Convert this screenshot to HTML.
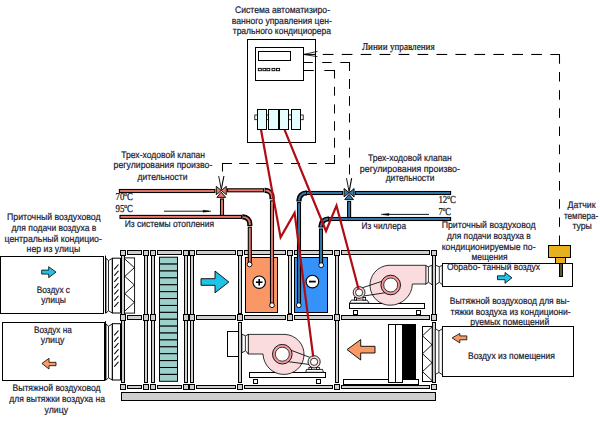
<!DOCTYPE html>
<html><head><meta charset="utf-8"><style>
html,body{margin:0;padding:0;background:#fff;width:600px;height:427px;overflow:hidden}
svg{display:block} text{text-rendering:geometricPrecision}
</style></head><body>
<svg width="600" height="427" viewBox="0 0 600 427">
<rect x="121.50" y="255.50" width="3.00" height="59.00" fill="#cfcfcf" stroke="#000" stroke-width="1.0" />
<rect x="144.50" y="255.50" width="3.00" height="59.00" fill="#cfcfcf" stroke="#000" stroke-width="1.0" />
<rect x="151.50" y="255.50" width="3.00" height="59.00" fill="#cfcfcf" stroke="#000" stroke-width="1.0" />
<rect x="184.50" y="255.50" width="3.00" height="59.00" fill="#cfcfcf" stroke="#000" stroke-width="1.0" />
<rect x="190.50" y="255.50" width="3.00" height="59.00" fill="#cfcfcf" stroke="#000" stroke-width="1.0" />
<rect x="238.50" y="255.50" width="3.00" height="58.00" fill="#cfcfcf" stroke="#000" stroke-width="1.0" />
<rect x="288.50" y="255.50" width="3.00" height="58.00" fill="#cfcfcf" stroke="#000" stroke-width="1.0" />
<rect x="335.50" y="255.50" width="3.00" height="59.00" fill="#cfcfcf" stroke="#000" stroke-width="1.0" />
<rect x="432.50" y="255.50" width="3.00" height="59.00" fill="#cfcfcf" stroke="#000" stroke-width="1.0" />
<rect x="121.50" y="320.50" width="3.00" height="62.00" fill="#cfcfcf" stroke="#000" stroke-width="1.0" />
<rect x="144.50" y="320.50" width="3.00" height="62.00" fill="#cfcfcf" stroke="#000" stroke-width="1.0" />
<rect x="151.50" y="320.50" width="3.00" height="62.00" fill="#cfcfcf" stroke="#000" stroke-width="1.0" />
<rect x="184.50" y="320.50" width="3.00" height="62.00" fill="#cfcfcf" stroke="#000" stroke-width="1.0" />
<rect x="190.50" y="320.50" width="3.00" height="62.00" fill="#cfcfcf" stroke="#000" stroke-width="1.0" />
<rect x="238.50" y="322.50" width="3.00" height="60.00" fill="#cfcfcf" stroke="#000" stroke-width="1.0" />
<rect x="335.50" y="320.50" width="3.00" height="62.00" fill="#cfcfcf" stroke="#000" stroke-width="1.0" />
<rect x="432.50" y="322.50" width="3.00" height="60.00" fill="#cfcfcf" stroke="#000" stroke-width="1.0" />
<rect x="127.50" y="250.50" width="14.00" height="4.00" fill="#cfcfcf" stroke="#000" stroke-width="1.0" />
<rect x="157.50" y="250.50" width="24.00" height="4.00" fill="#cfcfcf" stroke="#000" stroke-width="1.0" />
<rect x="196.50" y="250.50" width="39.00" height="4.00" fill="#cfcfcf" stroke="#000" stroke-width="1.0" />
<rect x="244.50" y="250.50" width="41.00" height="4.00" fill="#cfcfcf" stroke="#000" stroke-width="1.0" />
<rect x="294.50" y="250.50" width="38.00" height="4.00" fill="#cfcfcf" stroke="#000" stroke-width="1.0" />
<rect x="341.50" y="250.50" width="88.00" height="4.00" fill="#cfcfcf" stroke="#000" stroke-width="1.0" />
<rect x="127.50" y="315.50" width="14.00" height="4.00" fill="#cfcfcf" stroke="#000" stroke-width="1.0" />
<rect x="196.50" y="315.50" width="39.00" height="4.00" fill="#cfcfcf" stroke="#000" stroke-width="1.0" />
<rect x="244.50" y="315.50" width="41.00" height="4.00" fill="#cfcfcf" stroke="#000" stroke-width="1.0" />
<rect x="294.50" y="315.50" width="38.00" height="4.00" fill="#cfcfcf" stroke="#000" stroke-width="1.0" />
<rect x="341.50" y="315.50" width="88.00" height="4.00" fill="#cfcfcf" stroke="#000" stroke-width="1.0" />
<rect x="127.50" y="385.50" width="14.00" height="3.00" fill="#cfcfcf" stroke="#000" stroke-width="1.0" />
<rect x="157.50" y="385.50" width="24.00" height="3.00" fill="#cfcfcf" stroke="#000" stroke-width="1.0" />
<rect x="196.50" y="385.50" width="39.00" height="3.00" fill="#cfcfcf" stroke="#000" stroke-width="1.0" />
<rect x="244.50" y="385.50" width="88.00" height="3.00" fill="#cfcfcf" stroke="#000" stroke-width="1.0" />
<rect x="341.50" y="385.50" width="88.00" height="3.00" fill="#cfcfcf" stroke="#000" stroke-width="1.0" />
<rect x="120.50" y="250.50" width="5.00" height="5.00" fill="#cfcfcf" stroke="#000" stroke-width="1.0" />
<rect x="143.50" y="250.50" width="5.00" height="5.00" fill="#cfcfcf" stroke="#000" stroke-width="1.0" />
<rect x="150.50" y="250.50" width="5.00" height="5.00" fill="#cfcfcf" stroke="#000" stroke-width="1.0" />
<rect x="183.50" y="250.50" width="5.00" height="5.00" fill="#cfcfcf" stroke="#000" stroke-width="1.0" />
<rect x="189.50" y="250.50" width="5.00" height="5.00" fill="#cfcfcf" stroke="#000" stroke-width="1.0" />
<rect x="237.50" y="250.50" width="5.00" height="5.00" fill="#cfcfcf" stroke="#000" stroke-width="1.0" />
<rect x="287.50" y="250.50" width="5.00" height="5.00" fill="#cfcfcf" stroke="#000" stroke-width="1.0" />
<rect x="334.50" y="250.50" width="5.00" height="5.00" fill="#cfcfcf" stroke="#000" stroke-width="1.0" />
<rect x="431.50" y="250.50" width="5.00" height="5.00" fill="#cfcfcf" stroke="#000" stroke-width="1.0" />
<rect x="120.50" y="314.50" width="5.00" height="6.00" fill="#cfcfcf" stroke="#000" stroke-width="1.0" />
<rect x="143.50" y="314.50" width="5.00" height="6.00" fill="#cfcfcf" stroke="#000" stroke-width="1.0" />
<rect x="150.50" y="314.50" width="5.00" height="6.00" fill="#cfcfcf" stroke="#000" stroke-width="1.0" />
<rect x="183.50" y="314.50" width="5.00" height="6.00" fill="#cfcfcf" stroke="#000" stroke-width="1.0" />
<rect x="189.50" y="314.50" width="5.00" height="6.00" fill="#cfcfcf" stroke="#000" stroke-width="1.0" />
<rect x="237.50" y="314.50" width="5.00" height="6.00" fill="#cfcfcf" stroke="#000" stroke-width="1.0" />
<rect x="287.50" y="314.50" width="5.00" height="6.00" fill="#cfcfcf" stroke="#000" stroke-width="1.0" />
<rect x="334.50" y="314.50" width="5.00" height="6.00" fill="#cfcfcf" stroke="#000" stroke-width="1.0" />
<rect x="431.50" y="314.50" width="5.00" height="6.00" fill="#cfcfcf" stroke="#000" stroke-width="1.0" />
<rect x="120.50" y="384.50" width="5.00" height="5.00" fill="#cfcfcf" stroke="#000" stroke-width="1.0" />
<rect x="143.50" y="384.50" width="5.00" height="5.00" fill="#cfcfcf" stroke="#000" stroke-width="1.0" />
<rect x="150.50" y="384.50" width="5.00" height="5.00" fill="#cfcfcf" stroke="#000" stroke-width="1.0" />
<rect x="183.50" y="384.50" width="5.00" height="5.00" fill="#cfcfcf" stroke="#000" stroke-width="1.0" />
<rect x="189.50" y="384.50" width="5.00" height="5.00" fill="#cfcfcf" stroke="#000" stroke-width="1.0" />
<rect x="237.50" y="384.50" width="5.00" height="5.00" fill="#cfcfcf" stroke="#000" stroke-width="1.0" />
<rect x="334.50" y="384.50" width="5.00" height="5.00" fill="#cfcfcf" stroke="#000" stroke-width="1.0" />
<rect x="431.50" y="384.50" width="5.00" height="5.00" fill="#cfcfcf" stroke="#000" stroke-width="1.0" />
<rect x="121.50" y="392.50" width="314.00" height="8.00" fill="#cfcfcf" stroke="#000" stroke-width="1.0" />
<rect x="0.50" y="256.50" width="103.00" height="57.00" fill="#fff" stroke="#000" stroke-width="1.0" />
<rect x="2.50" y="322.50" width="102.00" height="58.00" fill="#fff" stroke="#000" stroke-width="1.0" />
<line x1="105.50" y1="255.60" x2="105.50" y2="313.50" stroke="#000" stroke-width="1.0" />
<path d="M106.0 258.4 L108.5 260.59999999999997 L112.3 258.4 L112.3 313.0 L108.5 310.8 L106.0 313.0 Z" fill="#fff" stroke="#000" stroke-width="0.85" />
<line x1="108.50" y1="260.60" x2="108.50" y2="310.80" stroke="#000" stroke-width="0.85" />
<line x1="105.50" y1="321.20" x2="105.50" y2="380.50" stroke="#000" stroke-width="1.0" />
<path d="M106.0 324.0 L108.5 326.2 L112.3 324.0 L112.3 380.0 L108.5 377.8 L106.0 380.0 Z" fill="#fff" stroke="#000" stroke-width="0.85" />
<line x1="108.50" y1="326.20" x2="108.50" y2="377.80" stroke="#000" stroke-width="0.85" />
<rect x="112.40" y="258.20" width="8.10" height="54.80" fill="#fff" stroke="#000" stroke-width="1.0" />
<line x1="114.30" y1="269.30" x2="118.50" y2="264.50" stroke="#000" stroke-width="1.1" />
<line x1="114.30" y1="275.55" x2="118.50" y2="270.75" stroke="#000" stroke-width="1.1" />
<line x1="114.30" y1="281.80" x2="118.50" y2="277.00" stroke="#000" stroke-width="1.1" />
<line x1="114.30" y1="288.05" x2="118.50" y2="283.25" stroke="#000" stroke-width="1.1" />
<line x1="114.30" y1="294.30" x2="118.50" y2="289.50" stroke="#000" stroke-width="1.1" />
<line x1="114.30" y1="300.55" x2="118.50" y2="295.75" stroke="#000" stroke-width="1.1" />
<line x1="114.30" y1="306.80" x2="118.50" y2="302.00" stroke="#000" stroke-width="1.1" />
<rect x="112.40" y="323.70" width="8.10" height="56.30" fill="#fff" stroke="#000" stroke-width="1.0" />
<line x1="114.30" y1="335.30" x2="118.50" y2="330.50" stroke="#000" stroke-width="1.1" />
<line x1="114.30" y1="341.55" x2="118.50" y2="336.75" stroke="#000" stroke-width="1.1" />
<line x1="114.30" y1="347.80" x2="118.50" y2="343.00" stroke="#000" stroke-width="1.1" />
<line x1="114.30" y1="354.05" x2="118.50" y2="349.25" stroke="#000" stroke-width="1.1" />
<line x1="114.30" y1="360.30" x2="118.50" y2="355.50" stroke="#000" stroke-width="1.1" />
<line x1="114.30" y1="366.55" x2="118.50" y2="361.75" stroke="#000" stroke-width="1.1" />
<rect x="124.50" y="257.90" width="10.10" height="55.20" fill="#fff" stroke="#000" stroke-width="0.9" />
<polyline points="124.80,259.00 134.40,267.67 124.80,276.33 134.40,285.00 124.80,293.67 134.40,302.33 124.80,311.00" fill="none" stroke="#000" stroke-width="0.9" />
<rect x="159.50" y="257.20" width="18.00" height="6.89" fill="#9dcfcb" stroke="#000" stroke-width="1.0" />
<rect x="159.50" y="264.09" width="18.00" height="6.89" fill="#9dcfcb" stroke="#000" stroke-width="1.0" />
<rect x="159.50" y="270.99" width="18.00" height="6.89" fill="#9dcfcb" stroke="#000" stroke-width="1.0" />
<rect x="159.50" y="277.88" width="18.00" height="6.89" fill="#9dcfcb" stroke="#000" stroke-width="1.0" />
<rect x="159.50" y="284.78" width="18.00" height="6.89" fill="#9dcfcb" stroke="#000" stroke-width="1.0" />
<rect x="159.50" y="291.67" width="18.00" height="6.89" fill="#9dcfcb" stroke="#000" stroke-width="1.0" />
<rect x="159.50" y="298.57" width="18.00" height="6.89" fill="#9dcfcb" stroke="#000" stroke-width="1.0" />
<rect x="159.50" y="305.46" width="18.00" height="6.89" fill="#9dcfcb" stroke="#000" stroke-width="1.0" />
<rect x="159.50" y="312.36" width="18.00" height="6.89" fill="#9dcfcb" stroke="#000" stroke-width="1.0" />
<rect x="159.50" y="319.25" width="18.00" height="6.89" fill="#9dcfcb" stroke="#000" stroke-width="1.0" />
<rect x="159.50" y="326.14" width="18.00" height="6.89" fill="#9dcfcb" stroke="#000" stroke-width="1.0" />
<rect x="159.50" y="333.04" width="18.00" height="6.89" fill="#9dcfcb" stroke="#000" stroke-width="1.0" />
<rect x="159.50" y="339.93" width="18.00" height="6.89" fill="#9dcfcb" stroke="#000" stroke-width="1.0" />
<rect x="159.50" y="346.83" width="18.00" height="6.89" fill="#9dcfcb" stroke="#000" stroke-width="1.0" />
<rect x="159.50" y="353.72" width="18.00" height="6.89" fill="#9dcfcb" stroke="#000" stroke-width="1.0" />
<rect x="159.50" y="360.62" width="18.00" height="6.89" fill="#9dcfcb" stroke="#000" stroke-width="1.0" />
<rect x="159.50" y="367.51" width="18.00" height="6.89" fill="#9dcfcb" stroke="#000" stroke-width="1.0" />
<rect x="159.50" y="374.41" width="18.00" height="6.89" fill="#9dcfcb" stroke="#000" stroke-width="1.0" />
<rect x="442.50" y="263.50" width="130.00" height="23.00" fill="#fff" stroke="#000" stroke-width="1.0" />
<rect x="442.50" y="326.50" width="131.00" height="50.00" fill="#fff" stroke="#000" stroke-width="1.0" />
<polygon points="201.00,278.70 215.00,278.70 215.00,271.00 228.80,282.00 215.00,292.80 215.00,285.30 201.00,285.30" fill="#20c3e8" stroke="#000" stroke-width="0.9" stroke-linejoin="miter" />
<polygon points="41.70,270.10 48.70,270.10 48.70,266.70 56.00,272.10 48.70,277.70 48.70,274.10 41.70,274.10" fill="#20c3e8" stroke="#000" stroke-width="0.8" stroke-linejoin="miter" />
<polygon points="497.50,275.80 505.00,275.80 505.00,272.50 512.00,277.80 505.00,283.30 505.00,279.70 497.50,279.70" fill="#20c3e8" stroke="#000" stroke-width="0.8" stroke-linejoin="miter" />
<polygon points="41.90,363.50 49.00,358.30 49.00,362.30 56.00,362.30 56.00,365.70 49.00,365.70 49.00,369.00" fill="#f79a66" stroke="#000" stroke-width="0.8" stroke-linejoin="miter" />
<polygon points="452.10,337.90 459.80,333.50 459.80,335.90 466.80,335.90 466.80,339.80 459.80,339.80 459.80,342.90" fill="#f79a66" stroke="#000" stroke-width="0.8" stroke-linejoin="miter" />
<polygon points="347.00,349.60 360.70,339.60 360.70,346.30 375.00,346.30 375.00,353.00 360.70,353.00 360.70,360.00" fill="#f79a66" stroke="#000" stroke-width="0.9" stroke-linejoin="miter" />
<rect x="245.50" y="257.50" width="32.00" height="55.00" fill="#f99866" stroke="#000" stroke-width="1.0" />
<rect x="294.50" y="257.50" width="33.00" height="55.00" fill="#3492f8" stroke="#000" stroke-width="1.0" />
<circle cx="259.20" cy="282.20" r="6.20" fill="#fff" stroke="#000" stroke-width="1.1"/>
<line x1="255.90" y1="282.20" x2="262.50" y2="282.20" stroke="#000" stroke-width="1.6" />
<line x1="259.20" y1="278.90" x2="259.20" y2="285.50" stroke="#000" stroke-width="1.6" />
<circle cx="312.40" cy="281.60" r="6.30" fill="#fff" stroke="#000" stroke-width="1.1"/>
<line x1="309.00" y1="281.60" x2="315.80" y2="281.60" stroke="#000" stroke-width="1.8" />
<rect x="548.50" y="245.50" width="22.00" height="12.00" fill="#e6b020" stroke="#000" stroke-width="1.0" />
<rect x="555.50" y="257.50" width="10.00" height="6.00" fill="#e6b020" stroke="#000" stroke-width="1.0" />
<rect x="559.50" y="263.50" width="3.00" height="13.00" fill="#5f5a30" stroke="#000" stroke-width="1.0" />
<rect x="343.50" y="379.50" width="75.00" height="5.00" fill="#fff" stroke="#000" stroke-width="1.0" />
<rect x="388.50" y="324.50" width="7.00" height="58.00" fill="#fff" stroke="#000" stroke-width="1.0" />
<rect x="395.50" y="324.50" width="7.00" height="58.00" fill="#fff" stroke="#000" stroke-width="1.0" />
<rect x="402.50" y="324.50" width="13.00" height="54.00" fill="#000" stroke="#000" stroke-width="1.0" />
<rect x="422.50" y="326.50" width="9.70" height="55.00" fill="#fff" stroke="#000" stroke-width="1.0" />
<polyline points="432.00,326.80 422.50,335.77 432.00,344.73 422.50,353.70 432.00,362.67 422.50,371.63 432.00,380.60" fill="none" stroke="#000" stroke-width="0.9" />
<path d="M425.6 265.6 L428.4 266.75 L432.1 265.2 L432.1 284.8 L428.4 282.3 L425.6 284.3 Z" fill="#fff" stroke="#000" stroke-width="0.85" />
<line x1="428.40" y1="266.75" x2="428.40" y2="282.30" stroke="#000" stroke-width="0.8" />
<path d="M435.5 265.2 L439.3 266.75 L442.3 265.4 L442.3 284.6 L439.3 282.3 L435.5 284.8 Z" fill="#fff" stroke="#000" stroke-width="0.85" />
<line x1="439.30" y1="266.75" x2="439.30" y2="282.30" stroke="#000" stroke-width="0.8" />
<path d="M435.3 328.7 L438.9 330.9 L442.4 328.8 L442.4 374.6 L438.9 372.5 L435.3 374.4 Z" fill="#fff" stroke="#000" stroke-width="0.85" />
<line x1="438.90" y1="330.90" x2="438.90" y2="372.50" stroke="#000" stroke-width="0.8" />
<rect x="247.50" y="39.50" width="68.00" height="103.00" fill="#fff" stroke="#000" stroke-width="1.0" />
<rect x="255.50" y="47.50" width="48.00" height="33.00" fill="#fff" stroke="#000" stroke-width="1.0" />
<rect x="258.50" y="51.50" width="32.00" height="9.00" fill="#fff" stroke="#000" stroke-width="1.0" />
<rect x="258.30" y="68.40" width="3.00" height="2.30" fill="#fff" stroke="#000" stroke-width="0.9" />
<rect x="262.90" y="68.40" width="2.90" height="2.30" fill="#fff" stroke="#000" stroke-width="0.9" />
<rect x="266.90" y="68.40" width="2.90" height="2.30" fill="#fff" stroke="#000" stroke-width="0.9" />
<rect x="272.00" y="68.40" width="2.90" height="2.30" fill="#fff" stroke="#000" stroke-width="0.9" />
<rect x="276.40" y="68.40" width="3.20" height="2.30" fill="#fff" stroke="#000" stroke-width="0.9" />
<rect x="254.80" y="115.00" width="2.60" height="4.70" fill="#fff" stroke="#000" stroke-width="0.8" />
<rect x="266.50" y="115.00" width="1.90" height="4.70" fill="#fff" stroke="#000" stroke-width="0.8" />
<rect x="288.60" y="115.00" width="2.80" height="4.70" fill="#fff" stroke="#000" stroke-width="0.8" />
<rect x="300.60" y="115.00" width="2.60" height="4.70" fill="#fff" stroke="#000" stroke-width="0.8" />
<rect x="257.50" y="109.50" width="9.00" height="20.00" fill="#e6fdff" stroke="#000" stroke-width="1.0" />
<rect x="268.50" y="109.50" width="10.00" height="20.00" fill="#e6fdff" stroke="#000" stroke-width="1.0" />
<rect x="279.50" y="109.50" width="9.00" height="20.00" fill="#e6fdff" stroke="#000" stroke-width="1.0" />
<rect x="291.50" y="109.50" width="9.00" height="20.00" fill="#e6fdff" stroke="#000" stroke-width="1.0" />
<rect x="349.50" y="303.50" width="75.00" height="5.00" fill="#fff" stroke="#000" stroke-width="1.0" />
<rect x="353.50" y="310.50" width="4.00" height="4.00" fill="#fff" stroke="#000" stroke-width="1.0" />
<rect x="416.50" y="310.50" width="4.00" height="4.00" fill="#fff" stroke="#000" stroke-width="1.0" />
<path d="M388 265.3 L425.9 265.3 L425.9 284 L412.4 284 C412 296 402 305.2 390.2 305.2 A20 20 0 0 1 388 265.3 Z" fill="#fbdcde" stroke="#000" stroke-width="0.8" />
<polygon points="351.50,300.10 367.10,300.10 369.20,303.20 349.60,303.20" fill="#fff" stroke="#000" stroke-width="0.85" stroke-linejoin="miter" />
<rect x="354.40" y="297.40" width="2.20" height="2.70" fill="#fff" stroke="#000" stroke-width="0.8" />
<rect x="362.90" y="297.40" width="2.70" height="2.70" fill="#fff" stroke="#000" stroke-width="0.8" />
<line x1="360.50" y1="288.40" x2="388.00" y2="279.30" stroke="#000" stroke-width="0.85" />
<line x1="362.50" y1="296.20" x2="388.00" y2="292.30" stroke="#000" stroke-width="0.85" />
<circle cx="390.70" cy="285.00" r="9.80" fill="#f39a9e" stroke="#000" stroke-width="0.9"/>
<circle cx="390.70" cy="285.00" r="7.00" fill="#fff" stroke="#000" stroke-width="0.75"/>
<circle cx="359.10" cy="292.50" r="5.90" fill="#fbdcde" stroke="#000" stroke-width="0.85"/>
<circle cx="359.10" cy="292.50" r="3.60" fill="#fff" stroke="#000" stroke-width="0.8"/>
<rect x="227.50" y="331.50" width="11.00" height="25.00" fill="#fff" stroke="#000" stroke-width="1.0" />
<rect x="249.50" y="372.50" width="76.00" height="5.00" fill="#fff" stroke="#000" stroke-width="1.0" />
<rect x="253.50" y="379.50" width="4.00" height="4.00" fill="#fff" stroke="#000" stroke-width="1.0" />
<rect x="316.50" y="379.50" width="4.00" height="4.00" fill="#fff" stroke="#000" stroke-width="1.0" />
<path d="M285 334.4 L248 334.4 L248 354 L263 354 C263.5 365 272 374 283 374.4 A20 20 0 0 0 285 334.4 Z" fill="#fbdcde" stroke="#000" stroke-width="0.8" />
<path d="M241.9 334.1 L245.4 335.8 L248.3 334.4 L248.3 353.6 L245.4 350.8 L241.9 352.8 Z" fill="#fff" stroke="#000" stroke-width="0.85" />
<line x1="245.40" y1="335.80" x2="245.40" y2="350.80" stroke="#000" stroke-width="0.8" />
<polygon points="306.50,369.40 322.60,369.40 323.40,372.30 305.70,372.30" fill="#fff" stroke="#000" stroke-width="0.85" stroke-linejoin="miter" />
<rect x="308.90" y="367.30" width="2.70" height="2.10" fill="#fff" stroke="#000" stroke-width="0.8" />
<rect x="316.50" y="367.30" width="2.80" height="2.10" fill="#fff" stroke="#000" stroke-width="0.8" />
<line x1="284.00" y1="347.60" x2="310.50" y2="357.60" stroke="#000" stroke-width="0.85" />
<line x1="284.00" y1="361.10" x2="309.50" y2="364.50" stroke="#000" stroke-width="0.85" />
<circle cx="282.30" cy="354.20" r="9.80" fill="#f39a9e" stroke="#000" stroke-width="0.9"/>
<circle cx="282.30" cy="354.20" r="7.00" fill="#fff" stroke="#000" stroke-width="0.75"/>
<circle cx="314.10" cy="361.80" r="6.10" fill="#fbdcde" stroke="#000" stroke-width="0.85"/>
<circle cx="314.10" cy="361.80" r="3.60" fill="#fff" stroke="#000" stroke-width="0.8"/>
<rect x="119.40" y="189.50" width="95.40" height="3.00" fill="#e8786b" stroke="#000" stroke-width="1.1" />
<rect x="227.60" y="188.80" width="36.00" height="3.00" fill="#e8786b" stroke="#000" stroke-width="1.1" />
<path d="M264.6 190.3 L265.3 190.3 A6.7 6.7 0 0 1 272.0 197.0 L272.0 199.3" fill="none" stroke="#000" stroke-width="5.2" stroke-linecap="butt"/>
<path d="M265.5 190.3 L265.3 190.3 A6.7 6.7 0 0 1 272.0 197.0 L272.0 198.4" fill="none" stroke="#e8786b" stroke-width="1.9" stroke-linecap="butt"/>
<rect x="270.50" y="200.90" width="3.00" height="103.10" fill="#e8786b" stroke="#000" stroke-width="1.1" />
<rect x="220.50" y="199.00" width="3.00" height="16.50" fill="#e8786b" stroke="#000" stroke-width="1.1" />
<rect x="120.00" y="215.40" width="121.50" height="3.00" fill="#e8786b" stroke="#000" stroke-width="1.1" />
<path d="M242.3 216.9 L243 216.9 A6.8 6.8 0 0 1 249.8 223.7 L249.8 225.9" fill="none" stroke="#000" stroke-width="5.2" stroke-linecap="butt"/>
<path d="M243.2 216.9 L243 216.9 A6.8 6.8 0 0 1 249.8 223.7 L249.8 225.0" fill="none" stroke="#e8786b" stroke-width="1.9" stroke-linecap="butt"/>
<rect x="248.30" y="227.20" width="3.00" height="36.30" fill="#e8786b" stroke="#000" stroke-width="1.1" />
<rect x="306.50" y="191.50" width="36.10" height="3.00" fill="#3479ab" stroke="#000" stroke-width="1.1" />
<path d="M307.0 193.0 L306 193.0 A7 7 0 0 0 299 200.0 L299 201.4" fill="none" stroke="#000" stroke-width="5.2" stroke-linecap="butt"/>
<path d="M306.1 193.0 L306 193.0 A7 7 0 0 0 299 200.0 L299 200.5" fill="none" stroke="#3479ab" stroke-width="1.9" stroke-linecap="butt"/>
<rect x="297.50" y="202.60" width="3.00" height="101.40" fill="#3479ab" stroke="#000" stroke-width="1.1" />
<rect x="355.40" y="191.50" width="95.20" height="3.00" fill="#3479ab" stroke="#000" stroke-width="1.1" />
<rect x="328.50" y="217.50" width="122.10" height="3.00" fill="#3479ab" stroke="#000" stroke-width="1.1" />
<path d="M329.0 219.0 L328 219.0 A7 7 0 0 0 321 226.0 L321 227.6" fill="none" stroke="#000" stroke-width="5.2" stroke-linecap="butt"/>
<path d="M328.1 219.0 L328 219.0 A7 7 0 0 0 321 226.0 L321 226.7" fill="none" stroke="#3479ab" stroke-width="1.9" stroke-linecap="butt"/>
<rect x="319.50" y="229.00" width="3.00" height="35.50" fill="#3479ab" stroke="#000" stroke-width="1.1" />
<rect x="347.60" y="201.40" width="3.00" height="16.20" fill="#3479ab" stroke="#000" stroke-width="1.1" />
<circle cx="249.60" cy="264.40" r="2.40" fill="#fff" stroke="#000" stroke-width="0.9"/>
<circle cx="272.00" cy="305.20" r="2.40" fill="#fff" stroke="#000" stroke-width="0.9"/>
<circle cx="321.20" cy="265.20" r="2.40" fill="#fff" stroke="#000" stroke-width="0.9"/>
<circle cx="298.80" cy="305.20" r="2.40" fill="#fff" stroke="#000" stroke-width="0.9"/>
<polygon points="216.30,186.30 216.30,194.70 221.30,190.50 226.30,186.30 226.30,194.70 221.30,190.50" fill="#e8786b" stroke="#000" stroke-width="0.9" stroke-linejoin="miter" />
<polygon points="221.30,192.10 216.90,197.40 225.70,197.40" fill="#e8786b" stroke="#000" stroke-width="0.9" stroke-linejoin="miter" />
<line x1="218.70" y1="176.00" x2="221.30" y2="189.50" stroke="#000" stroke-width="0.9" />
<line x1="223.90" y1="176.00" x2="221.30" y2="189.50" stroke="#000" stroke-width="1.1" />
<polygon points="344.10,188.50 344.10,196.90 349.10,192.70 354.10,188.50 354.10,196.90 349.10,192.70" fill="#3479ab" stroke="#000" stroke-width="0.9" stroke-linejoin="miter" />
<polygon points="349.10,194.30 344.70,199.60 353.50,199.60" fill="#3479ab" stroke="#000" stroke-width="0.9" stroke-linejoin="miter" />
<line x1="346.50" y1="178.20" x2="349.10" y2="191.70" stroke="#000" stroke-width="0.9" />
<line x1="351.70" y1="178.20" x2="349.10" y2="191.70" stroke="#000" stroke-width="1.1" />
<line x1="164.00" y1="211.20" x2="209.00" y2="211.20" stroke="#000" stroke-width="0.9" />
<polygon points="211.00,211.20 203.00,210.20 203.00,212.20" fill="#000" stroke="#000" stroke-width="0.4" stroke-linejoin="miter" />
<line x1="383.00" y1="214.40" x2="429.00" y2="214.40" stroke="#000" stroke-width="0.9" />
<polygon points="381.00,214.40 389.00,213.40 389.00,215.40" fill="#000" stroke="#000" stroke-width="0.4" stroke-linejoin="miter" />
<line x1="303.60" y1="54.45" x2="316.00" y2="54.45" stroke="#000" stroke-width="1.0" />
<line x1="303.60" y1="54.45" x2="317.50" y2="51.40" stroke="#000" stroke-width="0.8" />
<line x1="303.60" y1="54.45" x2="317.50" y2="56.70" stroke="#000" stroke-width="0.8" />
<line x1="303.60" y1="62.50" x2="312.80" y2="62.50" stroke="#000" stroke-width="1.0" />
<line x1="303.60" y1="70.50" x2="313.80" y2="70.50" stroke="#000" stroke-width="1.0" />
<polyline points="322.75,54.45 333.50,54.45" fill="none" stroke="#000" stroke-width="1.05" stroke-linejoin="miter" stroke-linecap="butt"/>
<polyline points="341.70,54.45 352.45,54.45" fill="none" stroke="#000" stroke-width="1.05" stroke-linejoin="miter" stroke-linecap="butt"/>
<polyline points="360.65,54.45 371.40,54.45" fill="none" stroke="#000" stroke-width="1.05" stroke-linejoin="miter" stroke-linecap="butt"/>
<polyline points="379.60,54.45 390.35,54.45" fill="none" stroke="#000" stroke-width="1.05" stroke-linejoin="miter" stroke-linecap="butt"/>
<polyline points="398.55,54.45 409.30,54.45" fill="none" stroke="#000" stroke-width="1.05" stroke-linejoin="miter" stroke-linecap="butt"/>
<polyline points="417.50,54.45 428.25,54.45" fill="none" stroke="#000" stroke-width="1.05" stroke-linejoin="miter" stroke-linecap="butt"/>
<polyline points="436.45,54.45 447.20,54.45" fill="none" stroke="#000" stroke-width="1.05" stroke-linejoin="miter" stroke-linecap="butt"/>
<polyline points="455.40,54.45 466.15,54.45" fill="none" stroke="#000" stroke-width="1.05" stroke-linejoin="miter" stroke-linecap="butt"/>
<polyline points="474.35,54.45 485.10,54.45" fill="none" stroke="#000" stroke-width="1.05" stroke-linejoin="miter" stroke-linecap="butt"/>
<polyline points="493.30,54.45 504.05,54.45" fill="none" stroke="#000" stroke-width="1.05" stroke-linejoin="miter" stroke-linecap="butt"/>
<polyline points="512.25,54.45 523.00,54.45" fill="none" stroke="#000" stroke-width="1.05" stroke-linejoin="miter" stroke-linecap="butt"/>
<polyline points="531.20,54.45 541.95,54.45" fill="none" stroke="#000" stroke-width="1.05" stroke-linejoin="miter" stroke-linecap="butt"/>
<polyline points="550.30,54.45 559.50,54.45 559.50,63.70" fill="none" stroke="#000" stroke-width="1.05" stroke-linejoin="miter" stroke-linecap="butt"/>
<polyline points="559.50,72.00 559.50,81.50" fill="none" stroke="#000" stroke-width="1.05" stroke-linejoin="miter" stroke-linecap="butt"/>
<polyline points="559.50,90.17 559.50,99.67" fill="none" stroke="#000" stroke-width="1.05" stroke-linejoin="miter" stroke-linecap="butt"/>
<polyline points="559.50,108.34 559.50,117.84" fill="none" stroke="#000" stroke-width="1.05" stroke-linejoin="miter" stroke-linecap="butt"/>
<polyline points="559.50,126.51 559.50,136.01" fill="none" stroke="#000" stroke-width="1.05" stroke-linejoin="miter" stroke-linecap="butt"/>
<polyline points="559.50,144.68 559.50,154.18" fill="none" stroke="#000" stroke-width="1.05" stroke-linejoin="miter" stroke-linecap="butt"/>
<polyline points="559.50,162.85 559.50,172.35" fill="none" stroke="#000" stroke-width="1.05" stroke-linejoin="miter" stroke-linecap="butt"/>
<polyline points="559.50,181.02 559.50,190.52" fill="none" stroke="#000" stroke-width="1.05" stroke-linejoin="miter" stroke-linecap="butt"/>
<polyline points="559.50,199.19 559.50,208.69" fill="none" stroke="#000" stroke-width="1.05" stroke-linejoin="miter" stroke-linecap="butt"/>
<polyline points="559.50,217.36 559.50,226.86" fill="none" stroke="#000" stroke-width="1.05" stroke-linejoin="miter" stroke-linecap="butt"/>
<polyline points="559.50,235.53 559.50,245.03" fill="none" stroke="#000" stroke-width="1.05" stroke-linejoin="miter" stroke-linecap="butt"/>
<polyline points="322.20,62.50 331.70,62.50" fill="none" stroke="#000" stroke-width="1.05" stroke-linejoin="miter" stroke-linecap="butt"/>
<polyline points="340.30,62.50 349.50,62.50 349.50,70.90" fill="none" stroke="#000" stroke-width="1.05" stroke-linejoin="miter" stroke-linecap="butt"/>
<polyline points="349.50,79.00 349.50,88.90" fill="none" stroke="#000" stroke-width="1.05" stroke-linejoin="miter" stroke-linecap="butt"/>
<polyline points="349.50,96.20 349.50,105.80" fill="none" stroke="#000" stroke-width="1.05" stroke-linejoin="miter" stroke-linecap="butt"/>
<polyline points="349.50,113.40 349.50,122.50" fill="none" stroke="#000" stroke-width="1.05" stroke-linejoin="miter" stroke-linecap="butt"/>
<polyline points="349.50,130.20 349.50,139.70" fill="none" stroke="#000" stroke-width="1.05" stroke-linejoin="miter" stroke-linecap="butt"/>
<polyline points="349.50,147.70 349.50,157.60" fill="none" stroke="#000" stroke-width="1.05" stroke-linejoin="miter" stroke-linecap="butt"/>
<polyline points="349.50,164.50 349.50,174.40" fill="none" stroke="#000" stroke-width="1.05" stroke-linejoin="miter" stroke-linecap="butt"/>
<polyline points="324.30,70.50 334.50,70.50 334.50,78.60" fill="none" stroke="#000" stroke-width="1.05" stroke-linejoin="miter" stroke-linecap="butt"/>
<polyline points="334.50,86.80 334.50,95.70" fill="none" stroke="#000" stroke-width="1.05" stroke-linejoin="miter" stroke-linecap="butt"/>
<polyline points="334.50,104.40 334.50,113.50" fill="none" stroke="#000" stroke-width="1.05" stroke-linejoin="miter" stroke-linecap="butt"/>
<polyline points="334.50,121.20 334.50,130.70" fill="none" stroke="#000" stroke-width="1.05" stroke-linejoin="miter" stroke-linecap="butt"/>
<polyline points="334.50,137.80 334.50,147.70" fill="none" stroke="#000" stroke-width="1.05" stroke-linejoin="miter" stroke-linecap="butt"/>
<polyline points="334.50,154.90 334.50,163.50 325.10,163.50" fill="none" stroke="#000" stroke-width="1.05" stroke-linejoin="miter" stroke-linecap="butt"/>
<polyline points="308.30,163.50 316.90,163.50" fill="none" stroke="#000" stroke-width="1.05" stroke-linejoin="miter" stroke-linecap="butt"/>
<polyline points="291.00,163.50 300.10,163.50" fill="none" stroke="#000" stroke-width="1.05" stroke-linejoin="miter" stroke-linecap="butt"/>
<polyline points="274.00,163.50 282.80,163.50" fill="none" stroke="#000" stroke-width="1.05" stroke-linejoin="miter" stroke-linecap="butt"/>
<polyline points="256.20,163.50 266.00,163.50" fill="none" stroke="#000" stroke-width="1.05" stroke-linejoin="miter" stroke-linecap="butt"/>
<polyline points="239.20,163.50 249.00,163.50" fill="none" stroke="#000" stroke-width="1.05" stroke-linejoin="miter" stroke-linecap="butt"/>
<polyline points="232.00,163.50 222.50,163.50 222.50,171.50" fill="none" stroke="#000" stroke-width="1.05" stroke-linejoin="miter" stroke-linecap="butt"/>
<polyline points="261.00,129.80 280.60,237.40 294.60,212.90 313.20,356.50" fill="none" stroke="#b00c14" stroke-width="2.2" stroke-linejoin="miter"/>
<polyline points="284.60,129.80 326.00,231.00 336.50,205.60 358.60,289.20" fill="none" stroke="#b00c14" stroke-width="2.2" stroke-linejoin="miter"/>
<text x="235.10" y="13.30" font-family="Liberation Sans" font-size="9.5" fill="#211c36" textLength="94.90" lengthAdjust="spacingAndGlyphs" stroke="#211c36" stroke-width="0.22">Система автоматизиро-</text>
<text x="231.80" y="23.70" font-family="Liberation Sans" font-size="9.5" fill="#211c36" textLength="100.00" lengthAdjust="spacingAndGlyphs" stroke="#211c36" stroke-width="0.22">ванного управления цен-</text>
<text x="232.75" y="34.30" font-family="Liberation Sans" font-size="9.5" fill="#211c36" textLength="98.25" lengthAdjust="spacingAndGlyphs" stroke="#211c36" stroke-width="0.22">трального кондициорера</text>
<text x="361.90" y="49.60" font-family="Liberation Serif" font-size="10.6" fill="#111" textLength="72.80" lengthAdjust="spacingAndGlyphs" stroke="#111" stroke-width="0.22">Линии управления</text>
<text x="121.30" y="157.50" font-family="Liberation Sans" font-size="9.5" fill="#211c36" textLength="83.70" lengthAdjust="spacingAndGlyphs" stroke="#211c36" stroke-width="0.22">Трех-ходовой клапан</text>
<text x="113.60" y="168.40" font-family="Liberation Sans" font-size="9.5" fill="#211c36" textLength="98.70" lengthAdjust="spacingAndGlyphs" stroke="#211c36" stroke-width="0.22">регулирования произво-</text>
<text x="137.60" y="179.50" font-family="Liberation Sans" font-size="9.5" fill="#211c36" textLength="49.80" lengthAdjust="spacingAndGlyphs" stroke="#211c36" stroke-width="0.22">дительности</text>
<text x="368.00" y="160.70" font-family="Liberation Sans" font-size="9.5" fill="#211c36" textLength="83.80" lengthAdjust="spacingAndGlyphs" stroke="#211c36" stroke-width="0.22">Трех-ходовой клапан</text>
<text x="359.80" y="171.50" font-family="Liberation Sans" font-size="9.5" fill="#211c36" textLength="100.20" lengthAdjust="spacingAndGlyphs" stroke="#211c36" stroke-width="0.22">регулирования произво-</text>
<text x="385.70" y="181.40" font-family="Liberation Sans" font-size="9.5" fill="#211c36" textLength="48.80" lengthAdjust="spacingAndGlyphs" stroke="#211c36" stroke-width="0.22">дительности</text>
<text x="115.50" y="200.10" font-family="Liberation Serif" font-size="10.6" fill="#111" textLength="17.40" lengthAdjust="spacingAndGlyphs" stroke="#111" stroke-width="0.22">70ºC</text>
<text x="115.50" y="211.60" font-family="Liberation Serif" font-size="10.6" fill="#111" textLength="17.40" lengthAdjust="spacingAndGlyphs" stroke="#111" stroke-width="0.22">95ºC</text>
<text x="124.70" y="226.70" font-family="Liberation Sans" font-size="9.5" fill="#211c36" textLength="89.40" lengthAdjust="spacingAndGlyphs" stroke="#211c36" stroke-width="0.22">Из системы отопления</text>
<text x="438.40" y="203.00" font-family="Liberation Serif" font-size="10.6" fill="#111" textLength="17.60" lengthAdjust="spacingAndGlyphs" stroke="#111" stroke-width="0.22">12ºC</text>
<text x="438.40" y="214.60" font-family="Liberation Serif" font-size="10.6" fill="#111" textLength="12.60" lengthAdjust="spacingAndGlyphs" stroke="#111" stroke-width="0.22">7ºC</text>
<text x="361.60" y="229.00" font-family="Liberation Sans" font-size="9.5" fill="#211c36" textLength="44.40" lengthAdjust="spacingAndGlyphs" stroke="#211c36" stroke-width="0.22">Из чиллера</text>
<text x="7.00" y="220.20" font-family="Liberation Sans" font-size="9.5" fill="#211c36" textLength="93.60" lengthAdjust="spacingAndGlyphs" stroke="#211c36" stroke-width="0.22">Приточный воздуховод</text>
<text x="11.40" y="231.20" font-family="Liberation Sans" font-size="9.5" fill="#211c36" textLength="84.90" lengthAdjust="spacingAndGlyphs" stroke="#211c36" stroke-width="0.22">для подачи воздуха в</text>
<text x="4.60" y="241.80" font-family="Liberation Sans" font-size="9.5" fill="#211c36" textLength="97.20" lengthAdjust="spacingAndGlyphs" stroke="#211c36" stroke-width="0.22">центральный кондицио-</text>
<text x="26.60" y="252.30" font-family="Liberation Sans" font-size="9.5" fill="#211c36" textLength="53.60" lengthAdjust="spacingAndGlyphs" stroke="#211c36" stroke-width="0.22">нер из улицы</text>
<text x="36.70" y="293.00" font-family="Liberation Sans" font-size="9.5" fill="#211c36" textLength="33.30" lengthAdjust="spacingAndGlyphs" stroke="#211c36" stroke-width="0.22">Воздух с</text>
<text x="41.20" y="303.40" font-family="Liberation Sans" font-size="9.5" fill="#211c36" textLength="24.80" lengthAdjust="spacingAndGlyphs" stroke="#211c36" stroke-width="0.22">улицы</text>
<text x="33.90" y="332.70" font-family="Liberation Sans" font-size="9.5" fill="#211c36" textLength="38.00" lengthAdjust="spacingAndGlyphs" stroke="#211c36" stroke-width="0.22">Воздух на</text>
<text x="40.70" y="343.20" font-family="Liberation Sans" font-size="9.5" fill="#211c36" textLength="23.80" lengthAdjust="spacingAndGlyphs" stroke="#211c36" stroke-width="0.22">улицу</text>
<text x="12.50" y="391.30" font-family="Liberation Sans" font-size="9.5" fill="#211c36" textLength="88.10" lengthAdjust="spacingAndGlyphs" stroke="#211c36" stroke-width="0.22">Вытяжной воздуховод</text>
<text x="9.20" y="401.80" font-family="Liberation Sans" font-size="9.5" fill="#211c36" textLength="95.80" lengthAdjust="spacingAndGlyphs" stroke="#211c36" stroke-width="0.22">для вытяжки воздуха на</text>
<text x="44.50" y="412.60" font-family="Liberation Sans" font-size="9.5" fill="#211c36" textLength="23.50" lengthAdjust="spacingAndGlyphs" stroke="#211c36" stroke-width="0.22">улицу</text>
<text x="441.70" y="228.40" font-family="Liberation Sans" font-size="9.5" fill="#211c36" textLength="93.90" lengthAdjust="spacingAndGlyphs" stroke="#211c36" stroke-width="0.22">Приточный воздуховод</text>
<text x="446.90" y="239.00" font-family="Liberation Sans" font-size="9.5" fill="#211c36" textLength="83.90" lengthAdjust="spacingAndGlyphs" stroke="#211c36" stroke-width="0.22">для подачи воздуха в</text>
<text x="441.70" y="249.50" font-family="Liberation Sans" font-size="9.5" fill="#211c36" textLength="93.90" lengthAdjust="spacingAndGlyphs" stroke="#211c36" stroke-width="0.22">кондиционируемые по-</text>
<text x="471.40" y="260.00" font-family="Liberation Sans" font-size="9.5" fill="#211c36" textLength="36.10" lengthAdjust="spacingAndGlyphs" stroke="#211c36" stroke-width="0.22">мещения</text>
<text x="446.90" y="269.60" font-family="Liberation Sans" font-size="9.5" fill="#211c36" textLength="93.10" lengthAdjust="spacingAndGlyphs" stroke="#211c36" stroke-width="0.22">Обрабо- танный воздух</text>
<text x="567.60" y="208.20" font-family="Liberation Sans" font-size="9.5" fill="#211c36" textLength="28.00" lengthAdjust="spacingAndGlyphs" stroke="#211c36" stroke-width="0.22">Датчик</text>
<text x="564.00" y="218.70" font-family="Liberation Sans" font-size="9.5" fill="#211c36" textLength="34.20" lengthAdjust="spacingAndGlyphs" stroke="#211c36" stroke-width="0.22">темпера-</text>
<text x="572.40" y="229.20" font-family="Liberation Sans" font-size="9.5" fill="#211c36" textLength="19.50" lengthAdjust="spacingAndGlyphs" stroke="#211c36" stroke-width="0.22">туры</text>
<text x="449.80" y="304.00" font-family="Liberation Sans" font-size="9.5" fill="#211c36" textLength="119.70" lengthAdjust="spacingAndGlyphs" stroke="#211c36" stroke-width="0.22">Вытяжной воздуховод для вы-</text>
<text x="450.50" y="315.20" font-family="Liberation Sans" font-size="9.5" fill="#211c36" textLength="120.20" lengthAdjust="spacingAndGlyphs" stroke="#211c36" stroke-width="0.22">тяжки воздуха из кондициони-</text>
<text x="470.30" y="325.00" font-family="Liberation Sans" font-size="9.5" fill="#211c36" textLength="78.90" lengthAdjust="spacingAndGlyphs" stroke="#211c36" stroke-width="0.22">руемых помещений</text>
<text x="468.00" y="358.50" font-family="Liberation Sans" font-size="9.5" fill="#211c36" textLength="87.00" lengthAdjust="spacingAndGlyphs" stroke="#211c36" stroke-width="0.22">Воздух из помещения</text>
</svg></body></html>
